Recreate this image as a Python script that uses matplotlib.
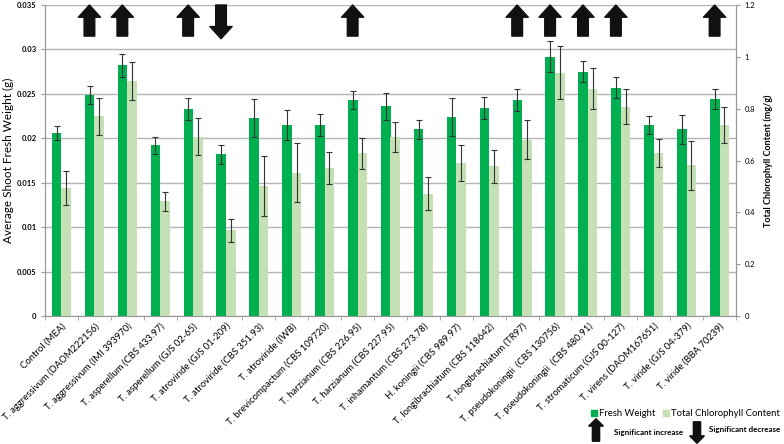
import numpy as np
import matplotlib
matplotlib.use("Agg")
import matplotlib.pyplot as plt
from matplotlib.patches import Rectangle

plt.rcParams['font.family'] = ['Lato', 'DejaVu Sans']

# strains
strains = ['Control (MEA)', 'T. aggressivum (DAOM222156)', 'T. aggressivum (IMI 393970)',
           'T. asperellum (CBS 433.97)', 'T. asperellum (GJS 02-65)', 'T. atroviride (GJS 01-209)',
           'T. atroviride (CBS 351.93)', 'T. atroviride (IWB)', 'T. brevicompactum (CBS 109720)',
           'T. harzianum (CBS 226.95)', 'T. harzianum (CBS 227.95)', 'T. inhamantum (CBS 273.78)',
           'H. koningii (CBS 989.97)', 'T. longibrachiatum (CBS 118642)', 'T. longibrachiatum (TR97)',
           'T. pseudokoningii  (CBS 130756)', 'T. pseudokoningii  (CBS 480.91)',
           'T. stromaticum (GJS 00-127)', 'T. virens (DAOM167651)', 'T. viride (GJS 04-379)',
           'T. viride (BBA 70239)']

# fresh weight (g), left axis
fresh = [0.0206, 0.0249, 0.0282, 0.0192, 0.0233, 0.0182, 0.0223, 0.0215, 0.0215, 0.0243,
         0.0236, 0.0210, 0.0224, 0.0234, 0.0243, 0.0292, 0.0275, 0.0257, 0.0215, 0.0210, 0.0244]
fresh_err = [0.0008, 0.0010, 0.0013, 0.0010, 0.0012, 0.0011, 0.0021, 0.0017, 0.0012, 0.0010,
             0.0015, 0.0011, 0.0021, 0.0012, 0.0012, 0.0017, 0.0012, 0.0012, 0.0010, 0.0016, 0.0011]

# total chlorophyll (mg/g), right axis
chloro = [0.494, 0.770, 0.907, 0.443, 0.692, 0.330, 0.503, 0.552, 0.571, 0.628,
          0.692, 0.472, 0.590, 0.578, 0.680, 0.939, 0.877, 0.807, 0.629, 0.581, 0.737]
chloro_err = [0.067, 0.072, 0.073, 0.036, 0.071, 0.044, 0.116, 0.114, 0.061, 0.060,
              0.058, 0.064, 0.069, 0.063, 0.075, 0.103, 0.078, 0.068, 0.054, 0.094, 0.071]

# significance markers
signif = ['', 'up', 'up', '', 'up', 'down', '', '', '', 'up', '', '', '', '', 'up',
          'up', 'up', 'up', '', '', 'up']

dark = '#00b050'
light = '#c4e0b4'

fig = plt.figure(figsize=(7.84, 4.44), dpi=100)
ax = fig.add_axes([45 / 784, 128 / 444, 691 / 784, 311 / 444])
ax2 = ax.twinx()

x = np.arange(len(strains))
w = 0.29
ekw = dict(ecolor='#333333', elinewidth=0.8, capsize=2, capthick=0.8)
ax.bar(x - w / 2, fresh, w, color=dark, yerr=fresh_err, error_kw=ekw, zorder=3)
ax2.bar(x + w / 2, chloro, w, color=light, yerr=chloro_err, error_kw=ekw, zorder=3)

ax.set_xlim(-0.5, len(strains) - 0.5)
ax.set_ylim(0, 0.035)
ax2.set_ylim(0, 1.2)
ax.set_yticks(np.arange(0, 0.0351, 0.005))
ax.set_yticklabels(['0', '0.005', '0.01', '0.015', '0.02', '0.025', '0.03', '0.035'],
                   fontsize=5.5, fontweight='bold')
ax2.set_yticks(np.arange(0, 1.21, 0.2))
ax2.set_yticklabels(['0', '0.2', '0.4', '0.6', '0.8', '1', '1.2'], fontsize=5.5)
ax.yaxis.grid(True, color='#b5b5b5', linewidth=1.0, zorder=0)
ax.set_axisbelow(True)

ax.set_xticks(x)
ax.set_xticklabels(strains, rotation=45, ha='right', rotation_mode='anchor', fontsize=6.8)
ax.tick_params(axis='x', length=0, pad=4)
ax.set_xticks(np.arange(len(strains) + 1) - 0.5, minor=True)
ax.tick_params(axis='x', which='minor', length=3, color='#999999')
ax.tick_params(axis='y', length=3, color='#999999', pad=3)
ax2.tick_params(axis='y', length=3, color='#999999', pad=3)

for a in (ax, ax2):
    a.spines['top'].set_visible(False)
    for s in ('left', 'right', 'bottom'):
        a.spines[s].set_color('#999999')

ax.set_ylabel('Average Shoot Fresh Weight (g)', fontsize=8.5, labelpad=2)
ax2.set_ylabel('Total Chlorophyll Content (mg/g)', fontsize=6.5, fontweight='bold', labelpad=6)

# significance arrows
akw = dict(arrowstyle='simple,head_length=0.55,head_width=1.0,tail_width=0.48',
           mutation_scale=16, color='#111111', shrinkA=0, shrinkB=0)
for i, s in enumerate(signif):
    if s == 'up':
        ax.annotate('', xy=(i - 0.15, 0.0350), xytext=(i - 0.15, 0.0315), arrowprops=akw,
                    annotation_clip=False)
    elif s == 'down':
        ax.annotate('', xy=(i - 0.15, 0.0312), xytext=(i - 0.15, 0.0350), arrowprops=akw,
                    annotation_clip=False)

# legend
fig.patches.append(Rectangle((591 / 784, 1 - 416 / 444), 6 / 784, 6 / 444, color=dark,
                             transform=fig.transFigure))
fig.text(599 / 784, 1 - 413 / 444, 'Fresh Weight', fontsize=6.8, va='center')
fig.patches.append(Rectangle((663 / 784, 1 - 416 / 444), 6 / 784, 6 / 444, color=light,
                             transform=fig.transFigure))
fig.text(671 / 784, 1 - 413 / 444, 'Total Chlorophyll Content', fontsize=6.8, va='center')

lkw = dict(arrowstyle='simple,head_length=0.5,head_width=1.0,tail_width=0.5',
           mutation_scale=10, color='#111111', shrinkA=0, shrinkB=0)
fig.add_artist(plt.annotate('', xy=(596 / 784, 1 - 419 / 444), xytext=(596 / 784, 1 - 441 / 444),
                            xycoords='figure fraction', arrowprops=lkw))
fig.text(614 / 784, 1 - 432 / 444, 'Significant increase', fontsize=5.8, va='center',
         fontweight='bold')
fig.add_artist(plt.annotate('', xy=(697 / 784, 1 - 443 / 444), xytext=(697 / 784, 1 - 422 / 444),
                            xycoords='figure fraction', arrowprops=lkw))
fig.text(709 / 784, 1 - 429 / 444, 'Significant decrease', fontsize=5.8, va='center',
         fontweight='bold')

fig.savefig('out.png', dpi=100)
